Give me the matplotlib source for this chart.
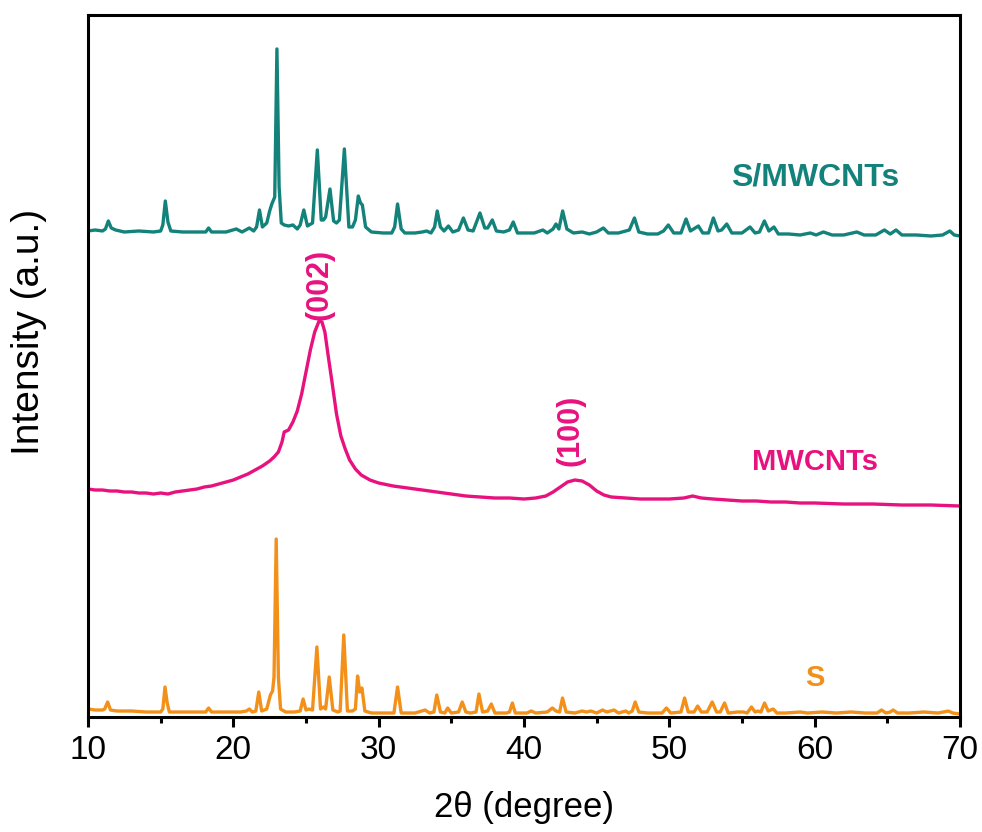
import matplotlib
matplotlib.use("Agg")
import matplotlib.pyplot as plt
from matplotlib.ticker import MultipleLocator

# XRD traces, already stacked (a.u.)
tt_s = [10.0, 10.5, 11.0, 11.15, 11.35, 11.55, 12.0, 13.0, 14.0, 15.0, 15.15, 15.3, 15.45, 15.6,
        16.5, 17.5, 18.1, 18.3, 18.5, 19.5, 20.5, 20.9, 21.1, 21.3, 21.55, 21.75, 21.95, 22.3,
        22.55, 22.7, 22.8, 22.95, 23.1, 23.25, 23.6, 24.2, 24.6, 24.8, 25.0, 25.2, 25.45, 25.75,
        26.0, 26.2, 26.35, 26.6, 26.85, 27.2, 27.35, 27.6, 27.85, 28.2, 28.4, 28.55, 28.7, 28.85,
        29.05, 29.5, 30.5, 31.05, 31.3, 31.55, 32.5, 33.2, 33.5, 33.8, 34.0, 34.25, 34.55, 34.75,
        35.0, 35.5, 35.75, 36.0, 36.3, 36.7, 36.9, 37.15, 37.5, 37.75, 38.0, 38.8, 39.0, 39.2,
        39.4, 40.2, 40.5, 40.8, 41.6, 41.95, 42.2, 42.45, 42.65, 42.9, 43.5, 44.0, 44.3, 44.6,
        45.0, 45.4, 45.7, 46.2, 46.5, 47.0, 47.2, 47.45, 47.65, 47.9, 48.5, 49.5, 49.8, 50.1,
        50.8, 51.05, 51.3, 51.7, 51.95, 52.2, 52.6, 52.95, 53.25, 53.5, 53.8, 54.05, 54.7, 55.1,
        55.35, 55.65, 55.9, 56.1, 56.3, 56.55, 56.8, 57.15, 57.4, 58.0, 59.0, 59.5, 60.5, 61.5,
        62.5, 63.5, 64.3, 64.6, 64.9, 65.2, 65.4, 65.7, 66.5, 67.5, 68.5, 69.2, 69.5, 70.0]
int_s = [8, 7, 7, 8, 15, 7, 6, 6, 5, 5, 8, 30, 14, 5,
         5, 5, 5, 9, 5, 5, 5, 6, 8, 5, 6, 25, 6, 8,
         22, 26, 40, 178, 40, 8, 5, 5, 6, 18, 7, 8, 7, 70,
         8, 10, 8, 40, 7, 5, 6, 82, 6, 6, 8, 41, 25, 29,
         6, 4, 4, 4, 30, 4, 4, 7, 4, 5, 22, 5, 4, 9,
         4, 5, 15, 5, 4, 5, 23, 5, 6, 13, 4, 4, 5, 14,
         4, 4, 6, 4, 5, 9, 6, 5, 19, 5, 4, 6, 5, 6,
         4, 7, 5, 7, 4, 6, 4, 6, 15, 5, 4, 4, 9, 4,
         5, 19, 5, 5, 11, 5, 5, 15, 5, 5, 14, 4, 5, 5,
         4, 10, 5, 6, 5, 14, 6, 8, 4, 4, 5, 4, 5, 4,
         5, 4, 4, 7, 4, 5, 7, 4, 4, 5, 4, 6, 4, 3]

tt_cnt = [10.0, 10.5, 11.0, 11.5, 12.0, 12.5, 13.0, 13.5, 14.0, 14.5, 15.0, 15.5, 16.0, 16.5,
          17.0, 17.5, 18.0, 18.5, 19.0, 19.5, 20.0, 20.5, 21.0, 21.5, 22.0, 22.5, 22.8, 23.1,
          23.35, 23.5, 23.8, 24.1, 24.4, 24.7, 25.0, 25.3, 25.6, 25.9, 26.1, 26.3, 26.5, 26.8,
          27.1, 27.4, 27.7, 28.0, 28.4, 28.8, 29.4, 30.0, 31.0, 32.0, 33.0, 34.0, 35.0, 36.0,
          37.0, 38.0, 39.0, 40.0, 40.8, 41.5, 42.0, 42.5, 43.0, 43.5, 44.0, 44.5, 45.0, 45.5,
          46.0, 47.0, 48.0, 49.0, 50.0, 51.0, 51.6, 52.2, 53.0, 54.0, 55.0, 56.0, 57.0, 58.0,
          59.0, 60.0, 62.0, 64.0, 66.0, 68.0, 70.0]
int_cnt = [228, 227, 227, 226, 226, 225, 225, 224, 224, 223, 224, 223, 225, 226,
           227, 228, 230, 231, 233, 235, 237, 240, 243, 247, 251, 256, 260, 265,
           275, 285, 287, 295, 306, 323, 345, 367, 385, 396, 395, 385, 364, 334,
           303, 281, 268, 257, 248, 242, 237, 234, 231, 229, 227, 225, 223, 221,
           220, 219, 219, 218, 219, 221, 225, 230, 235, 237, 236, 232, 226, 222,
           220, 219, 218, 218, 218, 219, 221, 219, 218, 217, 216, 216, 215, 215,
           214, 214, 213, 213, 212, 212, 211]

tt_sc = [10.0, 10.5, 11.0, 11.2, 11.4, 11.6, 11.9, 12.5, 13.5, 14.5, 15.0, 15.15, 15.32, 15.5,
         15.7, 16.5, 17.5, 18.1, 18.3, 18.5, 19.5, 20.2, 20.6, 21.1, 21.4, 21.6, 21.8, 22.0,
         22.3, 22.5, 22.65, 22.85, 23.0, 23.15, 23.3, 23.5, 23.8, 24.1, 24.4, 24.6, 24.85, 25.1,
         25.45, 25.78, 26.05, 26.2, 26.35, 26.65, 26.9, 27.1, 27.3, 27.64, 27.95, 28.2, 28.4, 28.6,
         28.75, 28.88, 29.1, 29.5, 30.3, 30.9, 31.1, 31.3, 31.55, 31.8, 32.5, 33.0, 33.3, 33.6,
         33.85, 34.03, 34.25, 34.5, 34.8, 35.1, 35.5, 35.83, 36.15, 36.5, 36.97, 37.3, 37.5, 37.82,
         38.1, 38.6, 39.0, 39.26, 39.55, 40.2, 40.7, 41.3, 41.6, 42.0, 42.2, 42.4, 42.66, 42.95,
         43.4, 44.0, 44.5, 45.0, 45.46, 45.8, 46.5, 47.0, 47.25, 47.6, 47.9, 48.5, 49.2, 49.6,
         49.93, 50.3, 50.8, 51.15, 51.45, 52.0, 52.3, 52.7, 53.03, 53.35, 53.6, 53.95, 54.3, 55.0,
         55.55, 55.9, 56.2, 56.54, 56.85, 57.2, 57.5, 58.2, 59.0, 59.7, 60.1, 60.6, 61.2, 62.0,
         62.9, 63.4, 64.2, 64.8, 65.2, 65.6, 66.0, 67.0, 68.0, 68.8, 69.3, 69.6, 70.0]
int_sc = [486, 487, 486, 488, 496, 489, 487, 485, 486, 485, 486, 492, 516, 495,
          486, 485, 485, 485, 489, 485, 485, 488, 485, 489, 486, 490, 507, 490,
          494, 506, 513, 520, 668, 530, 494, 492, 491, 492, 488, 492, 507, 491,
          494, 567, 497, 497, 500, 528, 496, 494, 497, 568, 490, 490, 497, 521,
          514, 512, 490, 485, 484, 484, 490, 513, 488, 484, 484, 485, 486, 484,
          490, 506, 490, 486, 491, 485, 487, 499, 487, 486, 504, 489, 489, 497,
          486, 485, 487, 495, 484, 484, 484, 487, 484, 488, 493, 488, 506, 488,
          484, 485, 483, 485, 489, 484, 484, 486, 487, 499, 485, 483, 483, 486,
          492, 484, 484, 498, 486, 491, 484, 484, 499, 486, 487, 493, 484, 484,
          490, 484, 485, 496, 486, 490, 483, 483, 482, 484, 482, 485, 482, 482,
          485, 482, 482, 487, 483, 487, 482, 482, 481, 482, 486, 482, 481]

c_s = "#F39019"
c_cnt = "#E8127F"
c_sc = "#12827A"
label_font = ["Liberation Sans", "DejaVu Sans"]

fig = plt.figure(figsize=(9.82, 8.32), dpi=100)
ax = fig.add_axes([0.0896, 0.1382, 0.888, 0.8438])

ax.plot(tt_s, int_s, color=c_s, lw=2.4)
ax.plot(tt_cnt, int_cnt, color=c_cnt, lw=2.4)
ax.plot(tt_sc, int_sc, color=c_sc, lw=2.4)

ax.text(60.0, 39, "S", color=c_s, fontsize=21, fontweight="bold",
        family=label_font, ha="center", va="center")
ax.text(60.0, 255, "MWCNTs", color=c_cnt, fontsize=21, fontweight="bold",
        family=label_font, ha="center", va="center")
ax.text(60.0, 539, "S/MWCNTs", color=c_sc, fontsize=23, fontweight="bold",
        family=label_font, ha="center", va="center")
ax.text(25.9, 433, "(002)", color=c_cnt, fontsize=22, fontweight="bold",
        family=label_font, ha="center", va="center", rotation=90)
ax.text(43.2, 287, "(100)", color=c_cnt, fontsize=22, fontweight="bold",
        family=label_font, ha="center", va="center", rotation=90)

ax.set_xlim(10, 70)
ax.set_ylim(0, 702)
ax.xaxis.set_major_locator(MultipleLocator(10))
ax.xaxis.set_minor_locator(MultipleLocator(5))
ax.set_yticks([])
ax.tick_params(axis="x", which="major", direction="out", length=7, width=2.2, labelsize=24, pad=6)
ax.tick_params(axis="x", which="minor", direction="out", length=4, width=2.2)
for lab in ax.get_xticklabels():
    lab.set_family(label_font)
for sp in ax.spines.values():
    sp.set_linewidth(2.2)

ax.set_xlabel("2θ (degree)", fontsize=25, family=label_font, labelpad=18)
ax.set_ylabel("Intensity (a.u.)", fontsize=28, family=label_font)
ax.yaxis.set_label_coords(-0.047, 0.548)

fig.savefig("out.png", dpi=100)
